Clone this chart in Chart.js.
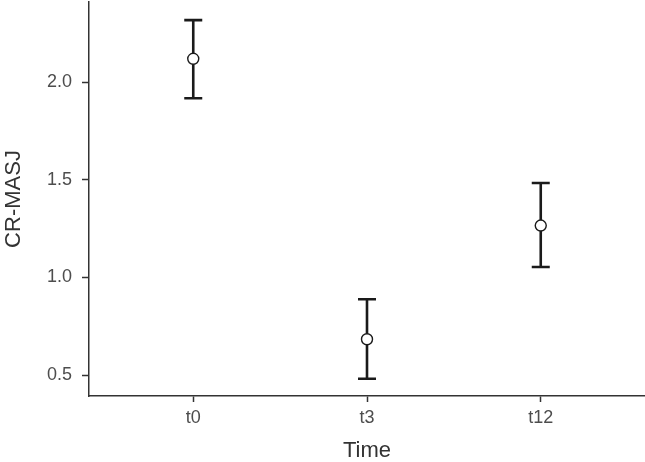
<!DOCTYPE html>
<html>
<head>
<meta charset="utf-8">
<script src="https://cdn.jsdelivr.net/npm/chart.js@4/dist/chart.umd.min.js"></script>
<style>
  html, body { margin: 0; padding: 0; background: #ffffff; overflow: hidden; }
  canvas { display: block; }
</style>
</head>
<body>
<canvas id="chart" width="645" height="462"></canvas>
<script>
// ─────────────────────────────────────────────
// Data
// ─────────────────────────────────────────────
const categories = ['t0', 't3', 't12'];
const means      = [2.119, 0.683, 1.265];
const lowerCI    = [1.917, 0.481, 1.053];
const upperCI    = [2.317, 0.888, 1.483];
const yTicks     = [0.5, 1.0, 1.5, 2.0];

const AXIS_COLOR = '#333333';
const TEXT_COLOR = '#4d4d4d';
const FONT = '"Liberation Sans", Arial, sans-serif';

// ─────────────────────────────────────────────
// Error bars plugin (drawn under the points)
// ─────────────────────────────────────────────
const errorBars = {
  id: 'errorBars',
  beforeDatasetsDraw(chart) {
    const { ctx, scales: { x, y } } = chart;
    const capHalf = 9;
    ctx.save();
    ctx.strokeStyle = '#1a1a1a';
    ctx.lineWidth = 2.6;
    categories.forEach((_, i) => {
      const px = x.getPixelForValue(i);
      const yLo = y.getPixelForValue(lowerCI[i]);
      const yHi = y.getPixelForValue(upperCI[i]);
      ctx.beginPath();
      ctx.moveTo(px, yLo);
      ctx.lineTo(px, yHi);
      ctx.moveTo(px - capHalf, yHi);
      ctx.lineTo(px + capHalf, yHi);
      ctx.moveTo(px - capHalf, yLo);
      ctx.lineTo(px + capHalf, yLo);
      ctx.stroke();
    });
    ctx.restore();
  },
};

// ─────────────────────────────────────────────
// Chart
// ─────────────────────────────────────────────
new Chart(document.getElementById('chart'), {
  type: 'scatter',
  data: {
    datasets: [{
      data: means.map((m, i) => ({ x: i, y: m })),
      pointRadius: 5.5,
      pointBackgroundColor: '#ffffff',
      pointBorderColor: '#1a1a1a',
      pointBorderWidth: 1.4,
    }],
  },
  options: {
    responsive: false,
    animation: false,
    layout: { autoPadding: false, padding: { top: 2, right: 0, bottom: 0, left: 0 } },
    plugins: { legend: { display: false }, tooltip: { enabled: false } },
    scales: {
      x: {
        type: 'linear',
        min: -0.6,
        max: 2.6,
        afterFit(scale) {
          scale.height = 66;
          scale.paddingLeft = 0;
          scale.paddingRight = 0;
        },
        afterBuildTicks(scale) {
          scale.ticks = categories.map((_, i) => ({ value: i }));
        },
        ticks: {
          color: TEXT_COLOR,
          font: { family: FONT, size: 18 },
          padding: 5,
          callback: (v) => categories[v],
        },
        grid: {
          drawOnChartArea: false,
          drawTicks: true,
          tickLength: 6,
          tickWidth: 1.5,
          tickColor: AXIS_COLOR,
        },
        border: { display: true, color: AXIS_COLOR, width: 1.5 },
        title: {
          display: true,
          text: 'Time',
          color: '#333333',
          font: { family: FONT, size: 22, lineHeight: 1 },
          padding: { top: 0, bottom: 0 },
        },
      },
      y: {
        type: 'linear',
        min: 0.3925,
        max: 2.4096,
        afterFit(scale) {
          scale.width = 89;
          scale.paddingTop = 0;
          scale.paddingBottom = 0;
        },
        afterBuildTicks(scale) {
          scale.ticks = yTicks.map((v) => ({ value: v }));
        },
        ticks: {
          color: TEXT_COLOR,
          font: { family: FONT, size: 18 },
          padding: 10,
          callback: (v) => v.toFixed(1),
        },
        grid: {
          drawOnChartArea: false,
          drawTicks: true,
          tickLength: 7,
          tickWidth: 1.5,
          tickColor: AXIS_COLOR,
        },
        border: { display: true, color: AXIS_COLOR, width: 1.5 },
        title: {
          display: true,
          text: 'CR-MASJ',
          color: '#333333',
          font: { family: FONT, size: 22, lineHeight: 1 },
          padding: { top: 3, bottom: 0 },
        },
      },
    },
  },
  plugins: [errorBars],
});
</script>
</body>
</html>
